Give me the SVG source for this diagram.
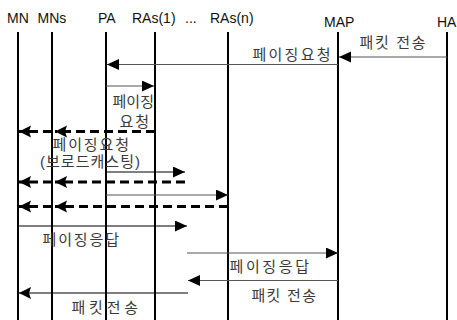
<svg xmlns="http://www.w3.org/2000/svg" width="457" height="320" viewBox="0 0 457 320">
  <style>
    .hdr { font-family: "Liberation Sans", Arial, sans-serif; font-size: 14px; fill: #111; }
    .lbl { font-family: "Liberation Sans", "Noto Sans CJK KR", sans-serif; font-size: 15px; fill: #3a3a3a; }
    .life { stroke: #000; stroke-width: 2; fill: none; }
    .msg { stroke: #000; stroke-width: 1.2; fill: none; }
    .msg.gray { stroke: #555; }
    .bcast { stroke: #000; stroke-width: 3; stroke-dasharray: 9 5; fill: none; }
  </style>
  <defs>
    <marker id="ah" markerUnits="userSpaceOnUse" markerWidth="14" markerHeight="12" refX="12" refY="5.5" orient="auto">
      <path d="M0,0 L12,5.5 L0,11 z" fill="#000"/>
    </marker>
    <marker id="ahb" markerUnits="userSpaceOnUse" markerWidth="14" markerHeight="13" refX="12" refY="6" orient="auto">
      <path d="M0,0 L12,6 L0,12 L2,6 z" fill="#000"/>
    </marker>
  </defs>

  <rect width="457" height="320" fill="#fff"/>

  <!-- entities with their lifelines -->
  <g id="MN"><text class="hdr" x="7" y="22.5">MN</text><line class="life" x1="18" y1="32" x2="18" y2="320"/></g>
  <g id="MNs"><text class="hdr" x="37.5" y="22.5">MNs</text><line class="life" x1="52" y1="32" x2="52" y2="320"/></g>
  <g id="PA"><text class="hdr" x="98" y="22.5">PA</text><line class="life" x1="106" y1="32" x2="106" y2="320"/></g>
  <g id="RAs1"><text class="hdr" x="132" y="22.5">RAs(1)</text><line class="life" x1="155" y1="32" x2="155" y2="320"/></g>
  <g id="dots"><text class="hdr" x="185" y="22.5">...</text></g>
  <g id="RAsn"><text class="hdr" x="210" y="22.5">RAs(n)</text><line class="life" x1="228" y1="32" x2="228" y2="320"/></g>
  <g id="MAP"><text class="hdr" x="324" y="26.5">MAP</text><line class="life" x1="338" y1="32" x2="338" y2="320"/></g>
  <g id="HA"><text class="hdr" x="437" y="26.5">HA</text><line class="life" x1="447" y1="32" x2="447" y2="320"/></g>

  <!-- messages -->
  <g id="connectors">
    <line class="msg gray" x1="447" y1="57" x2="339" y2="57" marker-end="url(#ah)"/>
    <line class="msg gray" x1="338" y1="64.5" x2="107" y2="64.5" marker-end="url(#ah)"/>
    <line class="msg gray" x1="106" y1="86" x2="154" y2="86" marker-end="url(#ah)"/>

    <line class="bcast" x1="155" y1="131.5" x2="55" y2="131.5" marker-end="url(#ahb)"/>
    <line class="bcast" x1="52" y1="131.5" x2="19" y2="131.5" marker-end="url(#ahb)"/>

    <line class="msg" x1="106" y1="172" x2="185" y2="172" marker-end="url(#ah)"/>
    <line class="bcast" x1="185" y1="182" x2="55" y2="182" marker-end="url(#ahb)"/>
    <line class="bcast" x1="52" y1="182" x2="19" y2="182" marker-end="url(#ahb)"/>

    <line class="msg gray" x1="106" y1="195" x2="228" y2="195" marker-end="url(#ah)"/>
    <line class="bcast" x1="228" y1="206.5" x2="55" y2="206.5" marker-end="url(#ahb)"/>
    <line class="bcast" x1="52" y1="206.5" x2="19" y2="206.5" marker-end="url(#ahb)"/>

    <line class="msg" x1="18" y1="226" x2="187" y2="226" marker-end="url(#ah)"/>
    <line class="msg gray" x1="187" y1="253" x2="338" y2="253" marker-end="url(#ah)"/>
    <line class="msg gray" x1="338" y1="280.5" x2="188" y2="280.5" marker-end="url(#ah)"/>
    <line class="msg" x1="188" y1="293" x2="19" y2="293" marker-end="url(#ahb)"/>
  </g>

  <!-- message labels -->
  <g id="labels">
    <text class="lbl" x="359.5" y="47.5" textLength="66">패킷 전송</text>
    <text class="lbl" x="252.5" y="59.5" textLength="78">페이징요청</text>
    <text class="lbl" x="112.5" y="106.5" textLength="41.5">페이징</text>
    <text class="lbl" x="119.5" y="126.5" textLength="29.5">요청</text>
    <text class="lbl" x="52.5" y="149.5" textLength="76.5">페이징요청</text>
    <text class="lbl" x="40" y="166.5" textLength="100">(브로드캐스팅)</text>
    <text class="lbl" x="42.5" y="244.5" textLength="76.5">페이징응답</text>
    <text class="lbl" x="229.5" y="271.5" textLength="79.5">페이징응답</text>
    <text class="lbl" x="251.5" y="300.5" textLength="64.5">패킷 전송</text>
    <text class="lbl" x="71.5" y="312.5" textLength="66.5">패킷전송</text>
  </g>
</svg>
